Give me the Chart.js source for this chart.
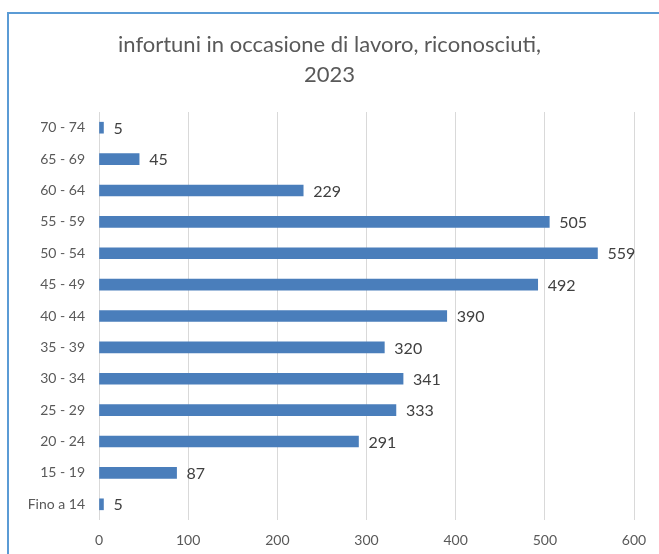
<!DOCTYPE html>
<html>
<head>
<meta charset="utf-8">
<script src="https://cdn.jsdelivr.net/npm/chart.js@4/dist/chart.umd.min.js"></script>
<style>
    body { margin: 0; background: #fff; }
    #wrap { position: relative; width: 659px; height: 554px; overflow: hidden; }
    #frame {
        position: absolute; left: 7px; top: 12px; width: 700px; height: 600px;
        border-left: 2px solid #5b9bd5; border-top: 2px solid #5b9bd5;
    }
    canvas { position: absolute; left: 0; top: 0; }
</style>
</head>
<body>
<div id="wrap">
    <div id="frame"></div>
    <canvas id="chart" width="659" height="554"></canvas>
</div>
<script>
// age bands, bottom to top as in the spreadsheet
const fasce = ["Fino a 14", "15 - 19", "20 - 24", "25 - 29", "30 - 34", "35 - 39",
    "40 - 44", "45 - 49", "50 - 54", "55 - 59", "60 - 64", "65 - 69", "70 - 74"];
const infortuni = [5, 87, 291, 333, 341, 320, 390, 492, 559, 505, 229, 45, 5];
const xTicks = [0, 100, 200, 300, 400, 500, 600];

const FONT = "Lato, 'Open Sans', sans-serif";

// value labels at the end of each bar
const barLabels = {
    id: "barLabels",
    afterDatasetsDraw(chart) {
        const ctx = chart.ctx;
        const meta = chart.getDatasetMeta(0);
        ctx.save();
        ctx.fillStyle = "#404040";
        ctx.font = "16px " + FONT;
        ctx.textAlign = "left";
        ctx.textBaseline = "middle";
        meta.data.forEach((bar, i) => {
            ctx.fillText(infortuni[i], bar.x + 10, bar.y + 1);
        });
        ctx.restore();
    }
};

new Chart(document.getElementById("chart"), {
    type: "bar",
    data: {
        labels: fasce,
        datasets: [{
            data: infortuni,
            backgroundColor: "#4a7ebb",
            barThickness: 11
        }]
    },
    options: {
        indexAxis: "y",
        responsive: false,
        animation: false,
        layout: { padding: { left: 25, right: 25, top: 0, bottom: 0 } },
        plugins: {
            legend: { display: false },
            tooltip: { enabled: false },
            title: {
                display: true,
                text: ["infortuni in occasione di lavoro, riconosciuti,", "2023"],
                color: "#595959",
                font: { family: FONT, size: 22, weight: "normal", lineHeight: 30 / 22 },
                padding: { top: 30, bottom: 22 }
            }
        },
        scales: {
            x: {
                min: 0,
                max: 600,
                afterBuildTicks: (axis) => { axis.ticks = xTicks.map(v => ({ value: v })); },
                afterFit: (axis) => { axis.height = 34; },
                grid: { color: "#d9d9d9", drawTicks: false },
                border: { display: false },
                ticks: { color: "#595959", padding: 12, font: { family: FONT, size: 14 } }
            },
            y: {
                reverse: true,
                afterFit: (axis) => { axis.width = 74; },
                grid: { display: false, drawTicks: false },
                border: { display: false },
                ticks: { color: "#595959", padding: 14, font: { family: FONT, size: 14 } }
            }
        }
    },
    plugins: [barLabels]
});
</script>
</body>
</html>
